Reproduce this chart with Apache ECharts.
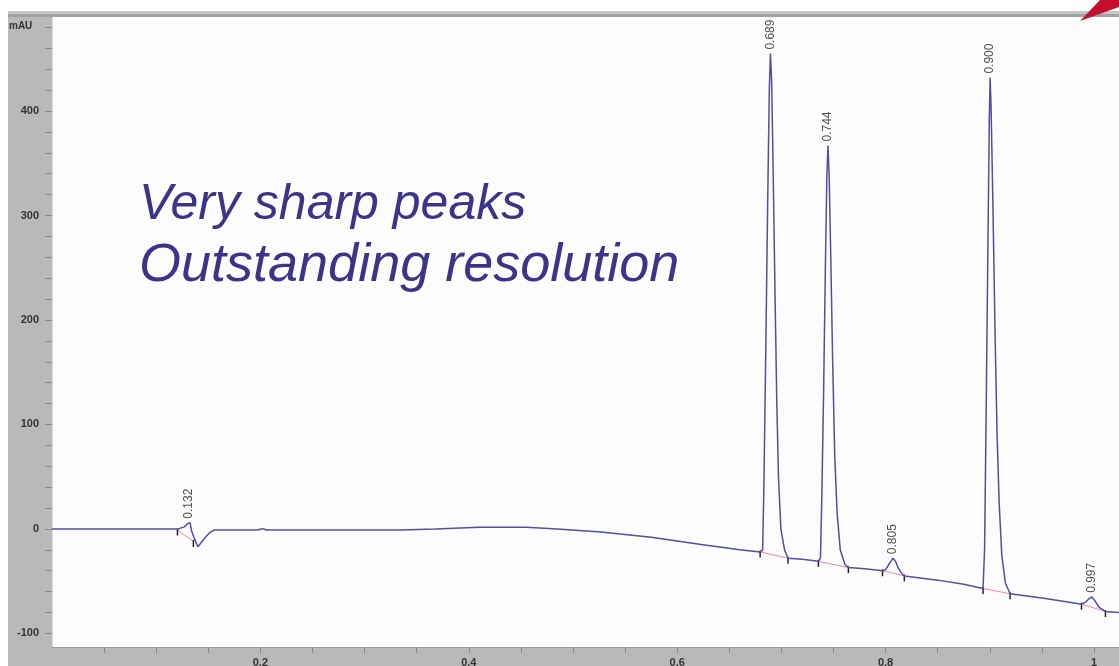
<!DOCTYPE html>
<html>
<head>
<meta charset="utf-8">
<title>Chromatogram</title>
<script src="https://cdn.jsdelivr.net/npm/echarts@6/dist/echarts.min.js"></script>
<style>
  html, body { margin: 0; padding: 0; background: #fff; }
  #chart { width: 1119px; height: 666px; }
</style>
</head>
<body>
<div id="chart"></div>
<script>
// detector trace, retention time (min) vs absorbance (mAU)
const traceTime = [
  0, 0.118, 0.121, 0.124, 0.127, 0.130, 0.1325, 0.134, 0.137, 0.140, 0.144, 0.148, 0.152, 0.156,
  0.175, 0.198, 0.200, 0.203, 0.206, 0.30, 0.335, 0.368, 0.41, 0.455, 0.485, 0.527, 0.575, 0.623, 0.660,
  0.6796, 0.6820, 0.6832, 0.6850, 0.6868, 0.6884, 0.6895, 0.6906, 0.6920, 0.6938, 0.6956, 0.6972, 0.6995, 0.7030, 0.7064,
  0.72,
  0.7355, 0.7375, 0.7388, 0.7405, 0.7422, 0.7436, 0.7447, 0.7458, 0.7474, 0.7492, 0.7512, 0.7535, 0.7565, 0.7610, 0.7643,
  0.78,
  0.797, 0.800, 0.8025, 0.807, 0.8095, 0.812, 0.815, 0.818,
  0.85, 0.875,
  0.8935, 0.8950, 0.8966, 0.8983, 0.8995, 0.9003, 0.9012, 0.9030, 0.9050, 0.9070, 0.9090, 0.9115, 0.9150, 0.9195,
  0.95, 0.975,
  0.988, 0.992, 0.995, 0.998, 1.001, 1.005, 1.011, 1.024
];
const traceMAU = [
  0, 0, 0, 1, 2, 5, 6, -2, -10, -17, -12, -7, -3, -1,
  -1, -1, 0, 0, -1, -1, -1, 0, 1.5, 1.5, 0, -3, -8, -15, -20,
  -22, -20, 40, 170, 310, 420, 455, 430, 350, 230, 120, 50, 0, -20, -28,
  -29,
  -31, -28, 30, 130, 250, 335, 367, 340, 260, 160, 70, 15, -20, -34, -37,
  -38,
  -40, -39, -35, -28, -31, -37, -42, -45,
  -49, -53,
  -57, -20, 120, 280, 390, 432, 405, 310, 190, 90, 25, -25, -52, -62,
  -66, -70,
  -72, -70, -67, -65, -69, -75, -79, -80
];

// integrated peaks: label, apex, and baseline start/end
const peakLabels = ['0.132', '0.689', '0.744', '0.805', '0.900', '0.997'];
const peakTime = [0.131, 0.6895, 0.7447, 0.807, 0.9003, 0.998];
const peakMAU = [6, 455, 367, -28, 432, -65];
const baseStart = [[0.1204, -1], [0.6796, -22], [0.7355, -31], [0.797, -40], [0.8935, -57], [0.988, -72]];
const baseEnd = [[0.1357, -12], [0.7064, -28], [0.7643, -37], [0.818, -45], [0.9195, -62], [1.011, -79]];

// axis ticks
const yTicks = [-100, -80, -60, -40, -20, 0, 20, 40, 60, 80, 100, 120, 140, 160, 180, 200, 220, 240,
  260, 280, 300, 320, 340, 360, 380, 400, 420, 440, 460, 480];
const yTickLabels = [-100, 0, 100, 200, 300, 400];
const xTicks = [0.05, 0.1, 0.15, 0.2, 0.25, 0.3, 0.35, 0.4, 0.45, 0.5, 0.55, 0.6, 0.65, 0.7, 0.75,
  0.8, 0.85, 0.9, 0.95, 1];
const xTickLabels = [0.2, 0.4, 0.6, 0.8, 1];

const note = ['Very sharp peaks', 'Outstanding resolution'];

const chart = echarts.init(document.getElementById('chart'));

const traceData = traceTime.map((t, i) => [t, traceMAU[i]]);
// baseline segments, broken with nulls
const baseData = [];
baseStart.forEach((s, i) => {
  baseData.push(s, baseEnd[i], null);
});
const labelData = peakTime.map((t, i) => ({ value: [t, peakMAU[i]], name: peakLabels[i] }));

const panel = '#b8bab9';

chart.setOption({
  animation: false,
  backgroundColor: '#ffffff',
  grid: {
    left: 52, right: 0, top: 17, bottom: 19,
    outerBoundsMode: 'none', containLabel: false,
    show: true, backgroundColor: '#fcfcfd', borderWidth: 0
  },
  xAxis: {
    type: 'value', min: 0, max: 1.024,
    axisLine: { show: true, onZero: false, lineStyle: { color: '#9a9a9a', width: 1 } },
    axisTick: { show: true, customValues: xTicks, length: 6, lineStyle: { color: '#8a8a8a' } },
    axisLabel: {
      customValues: xTickLabels, margin: 10,
      color: '#333', fontSize: 11, fontWeight: 'bold', fontFamily: 'Liberation Sans'
    },
    splitLine: { show: false }
  },
  yAxis: {
    type: 'value', min: -113, max: 490,
    axisLine: { show: true, lineStyle: { color: '#dcdcdc', width: 1 } },
    axisTick: { show: true, customValues: yTicks, length: 7, lineStyle: { color: '#8a8a8a' } },
    axisLabel: {
      customValues: yTickLabels, margin: 13,
      color: '#333', fontSize: 11, fontWeight: 'bold', fontFamily: 'Liberation Sans'
    },
    splitLine: { show: false }
  },
  graphic: [
    // grey frame around the plot
    { type: 'rect', z: -10, shape: { x: 8, y: 11, width: 44, height: 655 }, style: { fill: panel } },
    { type: 'rect', z: -10, shape: { x: 8, y: 647, width: 1111, height: 19 }, style: { fill: panel } },
    { type: 'rect', z: 10, shape: { x: 8, y: 11, width: 1111, height: 3 }, style: { fill: '#c6c6c6' } },
    { type: 'rect', z: 10, shape: { x: 8, y: 14, width: 1111, height: 3 }, style: { fill: '#a2a2a2' } },
    // red corner mark
    { type: 'polygon', z: 11, shape: { points: [[1080, 21], [1100, 0], [1119, 0], [1119, 7]] }, style: { fill: '#c4102c' } },
    { type: 'text', z: 10, left: 9, top: 21, style: { text: 'mAU', fill: '#333', font: 'bold 10px "Liberation Sans"' } },
    {
      type: 'text', z: 20, x: 139, y: 205,
      style: { text: note[0], fill: '#3c3489', font: 'italic 50px "Liberation Sans"', verticalAlign: 'middle' }
    },
    {
      type: 'text', z: 20, x: 139, y: 266,
      style: { text: note[1], fill: '#3c3489', font: 'italic 54px "Liberation Sans"', verticalAlign: 'middle' }
    }
  ],
  series: [
    {
      name: 'trace', type: 'line', data: traceData,
      showSymbol: false, symbol: 'none', z: 3,
      lineStyle: { color: '#50509e', width: 1.5 }
    },
    {
      name: 'baseline', type: 'line', data: baseData,
      showSymbol: true, symbol: 'rect', symbolSize: [1.5, 7], symbolOffset: [0, 2],
      itemStyle: { color: '#222' }, z: 2,
      lineStyle: { color: '#e58aa9', width: 1 }
    },
    {
      name: 'peaks', type: 'scatter', data: labelData,
      symbolSize: 0, z: 4,
      label: {
        show: true, position: 'top', distance: 4, rotate: 90,
        align: 'left', verticalAlign: 'middle',
        formatter: p => p.name,
        color: '#222', fontSize: 12, fontFamily: 'Liberation Sans'
      }
    }
  ]
});
</script>
</body>
</html>
